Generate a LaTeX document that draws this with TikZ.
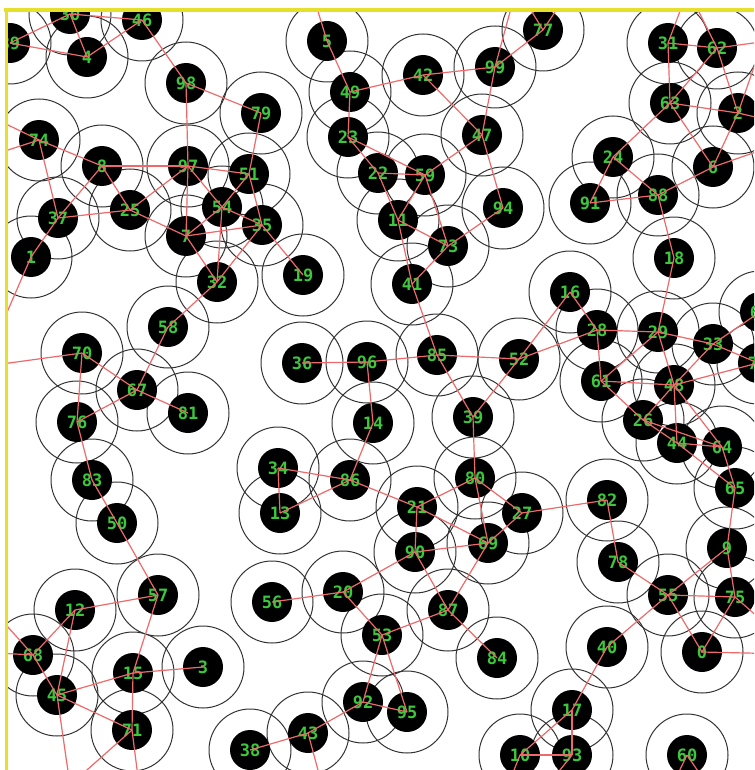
\documentclass[tikz,border=0pt]{standalone}
\usepackage{fontspec}
\setmonofont{DejaVu Sans Mono}
\usetikzlibrary{backgrounds}
\definecolor{Frame}{HTML}{E6E02C}
\definecolor{Lime}{HTML}{3CC83C}
\definecolor{Wire}{HTML}{EE6A6A}
\definecolor{Ring}{HTML}{333333}

\begin{document}
\begin{tikzpicture}[
  x=1pt, y=-1pt,
  sensor/.style={circle, fill=black, minimum size=40pt, inner sep=0pt, text=Lime, font=\ttfamily\bfseries\fontsize{17}{17}\selectfont},
  ring/.style={draw=Ring, line width=1pt},
  link/.style={draw=Wire, line width=1.2pt},
  frameline/.style={draw=Frame, line width=3.5pt}
]
\useasboundingbox (0,0) rectangle (754,770);
\begin{scope}
\clip (8,12) rectangle (754,770);
\node[sensor] (s0) at (702,652) {0};
\node[sensor] (s1) at (31,257) {1};
\node[sensor] (s2) at (738,113) {2};
\node[sensor] (s3) at (203,667) {3};
\node[sensor] (s4) at (87,57) {4};
\node[sensor] (s5) at (327,41) {5};
\node[sensor] (s6) at (713,167) {6};
\node[sensor] (s7) at (186,236) {7};
\node[sensor] (s8) at (102,166) {8};
\node[sensor] (s9) at (727,548) {9};
\node[sensor] (s10) at (520,755) {10};
\node[sensor] (s11) at (398,220) {11};
\node[sensor] (s12) at (75,610) {12};
\node[sensor] (s13) at (280,513) {13};
\node[sensor] (s14) at (373,423) {14};
\node[sensor] (s15) at (133,673) {15};
\node[sensor] (s16) at (570,292) {16};
\node[sensor] (s17) at (572,710) {17};
\node[sensor] (s18) at (674,258) {18};
\node[sensor] (s19) at (303,275) {19};
\node[sensor] (s20) at (343,592) {20};
\node[sensor] (s21) at (417,507) {21};
\node[sensor] (s22) at (378,173) {22};
\node[sensor] (s23) at (348,137) {23};
\node[sensor] (s24) at (613,157) {24};
\node[sensor] (s25) at (130,210) {25};
\node[sensor] (s26) at (643,420) {26};
\node[sensor] (s27) at (522,513) {27};
\node[sensor] (s28) at (597,330) {28};
\node[sensor] (s29) at (658,332) {29};
\node[sensor] (s30) at (70,14) {30};
\node[sensor] (s31) at (668,43) {31};
\node[sensor] (s32) at (217,282) {32};
\node[sensor] (s33) at (713,344) {33};
\node[sensor] (s34) at (278,468) {34};
\node[sensor] (s35) at (262,225) {35};
\node[sensor] (s36) at (302,363) {36};
\node[sensor] (s37) at (58,218) {37};
\node[sensor] (s38) at (250,750) {38};
\node[sensor] (s39) at (473,417) {39};
\node[sensor] (s40) at (607,647) {40};
\node[sensor] (s41) at (412,284) {41};
\node[sensor] (s42) at (423,75) {42};
\node[sensor] (s43) at (308,733) {43};
\node[sensor] (s44) at (677,443) {44};
\node[sensor] (s45) at (57,695) {45};
\node[sensor] (s46) at (142,20) {46};
\node[sensor] (s47) at (482,135) {47};
\node[sensor] (s48) at (674,385) {48};
\node[sensor] (s49) at (350,92) {49};
\node[sensor] (s50) at (117,523) {50};
\node[sensor] (s51) at (249,174) {51};
\node[sensor] (s52) at (519,359) {52};
\node[sensor] (s53) at (382,635) {53};
\node[sensor] (s54) at (222,207) {54};
\node[sensor] (s55) at (668,595) {55};
\node[sensor] (s56) at (272,602) {56};
\node[sensor] (s57) at (158,595) {57};
\node[sensor] (s58) at (168,327) {58};
\node[sensor] (s59) at (425,175) {59};
\node[sensor] (s60) at (687,755) {60};
\node[sensor] (s61) at (601,381) {61};
\node[sensor] (s62) at (717,48) {62};
\node[sensor] (s63) at (670,103) {63};
\node[sensor] (s64) at (722,447) {64};
\node[sensor] (s65) at (735,488) {65};
\node[sensor] (s66) at (760,312) {66};
\node[sensor] (s67) at (137,390) {67};
\node[sensor] (s68) at (33,655) {68};
\node[sensor] (s69) at (488,543) {69};
\node[sensor] (s70) at (82,353) {70};
\node[sensor] (s71) at (132,730) {71};
\node[sensor] (s72) at (758,363) {72};
\node[sensor] (s73) at (448,246) {73};
\node[sensor] (s74) at (39,140) {74};
\node[sensor] (s75) at (735,597) {75};
\node[sensor] (s76) at (77,422) {76};
\node[sensor] (s77) at (543,30) {77};
\node[sensor] (s78) at (618,562) {78};
\node[sensor] (s79) at (261,113) {79};
\node[sensor] (s80) at (475,478) {80};
\node[sensor] (s81) at (188,413) {81};
\node[sensor] (s82) at (607,500) {82};
\node[sensor] (s83) at (92,480) {83};
\node[sensor] (s84) at (497,658) {84};
\node[sensor] (s85) at (437,355) {85};
\node[sensor] (s86) at (350,480) {86};
\node[sensor] (s87) at (448,610) {87};
\node[sensor] (s88) at (658,195) {88};
\node[sensor] (s89) at (10,43) {89};
\node[sensor] (s90) at (415,552) {90};
\node[sensor] (s91) at (590,203) {91};
\node[sensor] (s92) at (363,702) {92};
\node[sensor] (s93) at (572,755) {93};
\node[sensor] (s94) at (503,208) {94};
\node[sensor] (s95) at (407,712) {95};
\node[sensor] (s96) at (367,362) {96};
\node[sensor] (s97) at (188,166) {97};
\node[sensor] (s98) at (186,83) {98};
\node[sensor] (s99) at (495,67) {99};

\coordinate (out74a) at (-23,110);
\coordinate (out74b) at (-23,160);
\coordinate (out1) at (-5,340);
\coordinate (out70) at (-20,367);
\coordinate (out5) at (313,-5);
\coordinate (out99) at (516,-10);
\coordinate (out77a) at (521,-6);
\coordinate (out77b) at (567,-6);
\coordinate (outtop) at (688,-10);
\coordinate (out62) at (790,38);
\coordinate (out2a) at (768,27);
\coordinate (out2b) at (790,125);
\coordinate (out6) at (790,140);
\coordinate (out75) at (775,632);
\coordinate (out0) at (790,654);
\coordinate (out10) at (510,780);
\coordinate (out93) at (552,780);
\coordinate (out60a) at (675,780);
\coordinate (out60b) at (704,780);
\coordinate (out43) at (322,785);
\coordinate (out71) at (139,785);
\coordinate (outbl) at (70,785);
\coordinate (out68a) at (-10,607);
\coordinate (out68b) at (-20,652);

\draw[link] (s89.center) -- (s30.center);
\draw[link] (s89.center) -- (s4.center);
\draw[link] (s30.center) -- (s46.center);
\draw[link] (s30.center) -- (s4.center);
\draw[link] (s4.center) -- (s46.center);
\draw[link] (s46.center) -- (s98.center);
\draw[link] (s98.center) -- (s79.center);
\draw[link] (s98.center) -- (s97.center);
\draw[link] (s74.center) -- (s8.center);
\draw[link] (s74.center) -- (s37.center);
\draw[link] (s74.center) -- (out74a);
\draw[link] (s74.center) -- (out74b);
\draw[link] (s8.center) -- (s97.center);
\draw[link] (s8.center) -- (s25.center);
\draw[link] (s8.center) -- (s37.center);
\draw[link] (s97.center) -- (s7.center);
\draw[link] (s97.center) -- (s25.center);
\draw[link] (s97.center) -- (s51.center);
\draw[link] (s97.center) -- (s54.center);
\draw[link] (s79.center) -- (s51.center);
\draw[link] (s51.center) -- (s54.center);
\draw[link] (s51.center) -- (s35.center);
\draw[link] (s54.center) -- (s35.center);
\draw[link] (s54.center) -- (s32.center);
\draw[link] (s54.center) -- (s7.center);
\draw[link] (s7.center) -- (s35.center);
\draw[link] (s7.center) -- (s32.center);
\draw[link] (s7.center) -- (s25.center);
\draw[link] (s35.center) -- (s32.center);
\draw[link] (s35.center) -- (s19.center);
\draw[link] (s37.center) -- (s25.center);
\draw[link] (s37.center) -- (s1.center);
\draw[link] (s1.center) -- (out1);
\draw[link] (s32.center) -- (s58.center);
\draw[link] (s58.center) -- (s67.center);
\draw[link] (s70.center) -- (out70);
\draw[link] (s70.center) -- (s67.center);
\draw[link] (s70.center) -- (s76.center);
\draw[link] (s67.center) -- (s76.center);
\draw[link] (s67.center) -- (s81.center);
\draw[link] (s76.center) -- (s83.center);
\draw[link] (s83.center) -- (s50.center);
\draw[link] (s50.center) -- (s57.center);
\draw[link] (s5.center) -- (out5);
\draw[link] (s5.center) -- (s49.center);
\draw[link] (s49.center) -- (s42.center);
\draw[link] (s49.center) -- (s23.center);
\draw[link] (s42.center) -- (s99.center);
\draw[link] (s42.center) -- (s47.center);
\draw[link] (s99.center) -- (s47.center);
\draw[link] (s47.center) -- (s94.center);
\draw[link] (s99.center) -- (s77.center);
\draw[link] (s99.center) -- (out99);
\draw[link] (s77.center) -- (out77a);
\draw[link] (s77.center) -- (out77b);
\draw[link] (s23.center) -- (s22.center);
\draw[link] (s23.center) -- (s59.center);
\draw[link] (s22.center) -- (s59.center);
\draw[link] (s47.center) -- (s59.center);
\draw[link] (s22.center) -- (s11.center);
\draw[link] (s59.center) -- (s11.center);
\draw[link] (s59.center) -- (s73.center);
\draw[link] (s11.center) -- (s73.center);
\draw[link] (s11.center) -- (s41.center);
\draw[link] (s73.center) -- (s41.center);
\draw[link] (s73.center) -- (s94.center);
\draw[link] (s41.center) -- (s85.center);
\draw[link] (s36.center) -- (s96.center);
\draw[link] (s96.center) -- (s85.center);
\draw[link] (s85.center) -- (s52.center);
\draw[link] (s96.center) -- (s14.center);
\draw[link] (s85.center) -- (s39.center);
\draw[link] (s52.center) -- (s39.center);
\draw[link] (s52.center) -- (s16.center);
\draw[link] (s52.center) -- (s28.center);
\draw[link] (s16.center) -- (s28.center);
\draw[link] (s28.center) -- (s29.center);
\draw[link] (s28.center) -- (s61.center);
\draw[link] (s29.center) -- (s18.center);
\draw[link] (s18.center) -- (s88.center);
\draw[link] (s88.center) -- (s91.center);
\draw[link] (s29.center) -- (s61.center);
\draw[link] (s29.center) -- (s33.center);
\draw[link] (s29.center) -- (s48.center);
\draw[link] (s61.center) -- (s48.center);
\draw[link] (s33.center) -- (s48.center);
\draw[link] (s33.center) -- (s66.center);
\draw[link] (s33.center) -- (s72.center);
\draw[link] (s48.center) -- (s72.center);
\draw[link] (s88.center) -- (s6.center);
\draw[link] (s24.center) -- (s88.center);
\draw[link] (s24.center) -- (s63.center);
\draw[link] (s24.center) -- (s91.center);
\draw[link] (s63.center) -- (s31.center);
\draw[link] (s63.center) -- (s62.center);
\draw[link] (s63.center) -- (s2.center);
\draw[link] (s63.center) -- (s6.center);
\draw[link] (s31.center) -- (s62.center);
\draw[link] (s31.center) -- (outtop);
\draw[link] (s62.center) -- (outtop);
\draw[link] (s62.center) -- (out62);
\draw[link] (s62.center) -- (s2.center);
\draw[link] (s2.center) -- (out2a);
\draw[link] (s2.center) -- (out2b);
\draw[link] (s2.center) -- (s6.center);
\draw[link] (s6.center) -- (out6);
\draw[link] (s14.center) -- (s86.center);
\draw[link] (s34.center) -- (s86.center);
\draw[link] (s34.center) -- (s13.center);
\draw[link] (s13.center) -- (s86.center);
\draw[link] (s86.center) -- (s21.center);
\draw[link] (s39.center) -- (s80.center);
\draw[link] (s80.center) -- (s21.center);
\draw[link] (s80.center) -- (s69.center);
\draw[link] (s80.center) -- (s27.center);
\draw[link] (s21.center) -- (s90.center);
\draw[link] (s21.center) -- (s69.center);
\draw[link] (s90.center) -- (s69.center);
\draw[link] (s90.center) -- (s20.center);
\draw[link] (s90.center) -- (s87.center);
\draw[link] (s69.center) -- (s87.center);
\draw[link] (s27.center) -- (s69.center);
\draw[link] (s27.center) -- (s82.center);
\draw[link] (s82.center) -- (s78.center);
\draw[link] (s78.center) -- (s55.center);
\draw[link] (s26.center) -- (s61.center);
\draw[link] (s26.center) -- (s48.center);
\draw[link] (s26.center) -- (s44.center);
\draw[link] (s26.center) -- (s64.center);
\draw[link] (s48.center) -- (s44.center);
\draw[link] (s48.center) -- (s64.center);
\draw[link] (s44.center) -- (s64.center);
\draw[link] (s44.center) -- (s65.center);
\draw[link] (s64.center) -- (s65.center);
\draw[link] (s65.center) -- (s9.center);
\draw[link] (s9.center) -- (s75.center);
\draw[link] (s9.center) -- (s55.center);
\draw[link] (s55.center) -- (s75.center);
\draw[link] (s75.center) -- (s0.center);
\draw[link] (s75.center) -- (out75);
\draw[link] (s0.center) -- (out0);
\draw[link] (s55.center) -- (s0.center);
\draw[link] (s55.center) -- (s40.center);
\draw[link] (s40.center) -- (s17.center);
\draw[link] (s17.center) -- (s93.center);
\draw[link] (s17.center) -- (s10.center);
\draw[link] (s10.center) -- (s93.center);
\draw[link] (s10.center) -- (out10);
\draw[link] (s93.center) -- (out93);
\draw[link] (s60.center) -- (out60a);
\draw[link] (s60.center) -- (out60b);
\draw[link] (s57.center) -- (s12.center);
\draw[link] (s57.center) -- (s15.center);
\draw[link] (s15.center) -- (s71.center);
\draw[link] (s71.center) -- (out71);
\draw[link] (s15.center) -- (s3.center);
\draw[link] (s15.center) -- (s45.center);
\draw[link] (s45.center) -- (s71.center);
\draw[link] (s45.center) -- (s68.center);
\draw[link] (s45.center) -- (s12.center);
\draw[link] (s68.center) -- (s12.center);
\draw[link] (s68.center) -- (out68a);
\draw[link] (s68.center) -- (out68b);
\draw[link] (s45.center) -- (outbl);
\draw[link] (s71.center) -- (outbl);
\draw[link] (s56.center) -- (s20.center);
\draw[link] (s20.center) -- (s53.center);
\draw[link] (s53.center) -- (s87.center);
\draw[link] (s87.center) -- (s84.center);
\draw[link] (s53.center) -- (s92.center);
\draw[link] (s53.center) -- (s95.center);
\draw[link] (s92.center) -- (s95.center);
\draw[link] (s92.center) -- (s43.center);
\draw[link] (s43.center) -- (s38.center);
\draw[link] (s43.center) -- (out43);
\end{scope}

\begin{scope}[on background layer]
\fill[white] (0,0) rectangle (754,770);
\clip (8,12) rectangle (754,770);
\foreach \s in {0,...,99} \draw[ring] (s\s.center) circle (41pt);
\end{scope}

\draw[frameline] (4,10) -- (754,10);
\draw[frameline] (6.5,8) -- (6.5,770);
\end{tikzpicture}
\end{document}
